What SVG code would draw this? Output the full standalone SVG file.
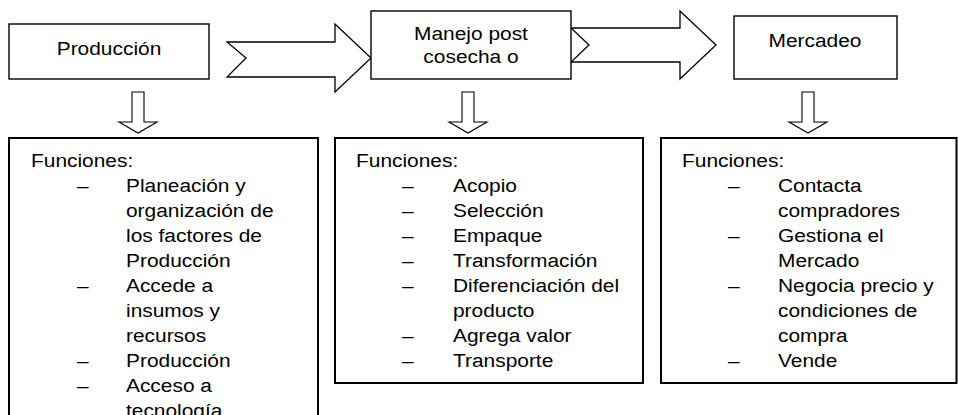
<svg xmlns="http://www.w3.org/2000/svg" width="958" height="415" viewBox="0 0 958 415">
<style>
  text { font-family: "Liberation Sans", Arial, sans-serif; font-size: 19px; fill: #000; transform-box: fill-box; transform-origin: 0 0; transform: scaleX(1.1); }
  text.c { text-anchor: middle; transform-origin: 50% 0; }
  .top { fill: #fff; stroke: #000; stroke-width: 1.4; }
  .box { fill: #fff; stroke: #000; stroke-width: 2; }
  .arr { fill: #fff; stroke: #000; stroke-width: 1.3; stroke-linejoin: miter; }
  .darr { fill: #fff; stroke: #000; stroke-width: 1.1; }
</style>
<rect width="958" height="415" fill="#fff"/>

<g id="connectors">
  <polygon class="arr" points="227,42 335,42 335,24 371,58 335,92 335,77 227,77 246,58"/>
  <polygon class="arr" points="571,28 680,28 680,11 716,45 680,79 680,62 571,62 589,45"/>
  <polygon class="darr" points="132,92 144,92 144,122 157,122 138,133 119,122 132,122"/>
  <polygon class="darr" points="462,92 474,92 474,122 487,122 468,133 449,122 462,122"/>
  <polygon class="darr" points="802,92 814,92 814,122 827,122 808,133 789,122 802,122"/>
</g>

<g id="produccion">
  <rect class="top" x="9" y="24" width="200" height="55"/>
  <text class="c" x="109" y="55">Producción</text>
</g>

<g id="manejo">
  <rect class="top" x="371" y="11" width="200" height="68"/>
  <text class="c" x="471" y="40">Manejo post</text>
  <text class="c" x="471" y="63">cosecha o</text>
</g>

<g id="mercadeo">
  <rect class="top" x="734" y="16" width="163" height="63"/>
  <text class="c" x="815" y="47">Mercadeo</text>
</g>

<g id="funciones-produccion">
  <rect class="box" x="9" y="138" width="309" height="300"/>
  <text x="31" y="167">Funciones:</text>
  <text x="77" y="192">–</text><text x="126" y="192">Planeación y</text>
  <text x="126" y="217">organización de</text>
  <text x="126" y="242">los factores de</text>
  <text x="126" y="267">Producción</text>
  <text x="77" y="292">–</text><text x="126" y="292">Accede a</text>
  <text x="126" y="317">insumos y</text>
  <text x="126" y="342">recursos</text>
  <text x="77" y="367">–</text><text x="126" y="367">Producción</text>
  <text x="77" y="392">–</text><text x="126" y="392">Acceso a</text>
  <text x="126" y="417">tecnología</text>
</g>

<g id="funciones-manejo">
  <rect class="box" x="335" y="138" width="308" height="245"/>
  <text x="356" y="167">Funciones:</text>
  <text x="402" y="192">–</text><text x="453" y="192">Acopio</text>
  <text x="402" y="217">–</text><text x="453" y="217">Selección</text>
  <text x="402" y="242">–</text><text x="453" y="242">Empaque</text>
  <text x="402" y="267">–</text><text x="453" y="267">Transformación</text>
  <text x="402" y="292">–</text><text x="453" y="292">Diferenciación del</text>
  <text x="453" y="317">producto</text>
  <text x="402" y="342">–</text><text x="453" y="342">Agrega valor</text>
  <text x="402" y="367">–</text><text x="453" y="367">Transporte</text>
</g>

<g id="funciones-mercadeo">
  <rect class="box" x="661" y="138" width="295.5" height="245"/>
  <text x="682" y="167">Funciones:</text>
  <text x="728" y="192">–</text><text x="778" y="192">Contacta</text>
  <text x="778" y="217">compradores</text>
  <text x="728" y="242">–</text><text x="778" y="242">Gestiona el</text>
  <text x="778" y="267">Mercado</text>
  <text x="728" y="292">–</text><text x="778" y="292">Negocia precio y</text>
  <text x="778" y="317">condiciones de</text>
  <text x="778" y="342">compra</text>
  <text x="728" y="367">–</text><text x="778" y="367">Vende</text>
</g>
</svg>
